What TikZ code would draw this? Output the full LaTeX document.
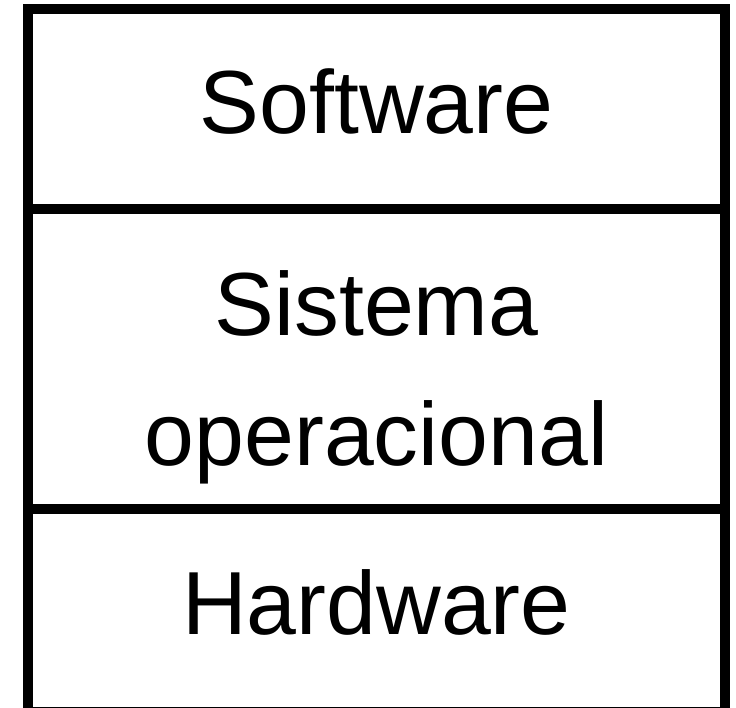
\documentclass[tikz,border=0pt]{standalone}
\usepackage{fontspec}
\setmainfont{Liberation Sans}
\usetikzlibrary{positioning}
\tikzset{
  layer/.style={draw=black, line width=0.2cm, minimum width=13.94cm, inner sep=0pt, outer sep=0pt},
  caption/.style={font=\fontsize{51}{74}\selectfont, align=center, inner sep=0pt}
}
\begin{document}
\begin{tikzpicture}[x=0.02cm, y=-0.02cm]
  \useasboundingbox (0,0) rectangle (736,707);
  % stacked layers, top to bottom
  \node (soft) [layer, minimum height=4.01cm] at (376.5,109) {};
  \node (os) [layer, minimum height=6cm, below=0pt of soft] {};
  \node (hard) [layer, minimum height=4.05cm, below=0pt of os] {};
  % layer names
  \node (softname) [caption, text height=1.28cm, text depth=0.32cm] at (soft) {Software};
  \node (osname) [caption, yshift=-0.37cm] at (os) {Sistema\\operacional};
  \node (hardname) [caption, text height=1.28cm, text depth=0.31cm] at (hard) {Hardware};
\end{tikzpicture}
\end{document}
